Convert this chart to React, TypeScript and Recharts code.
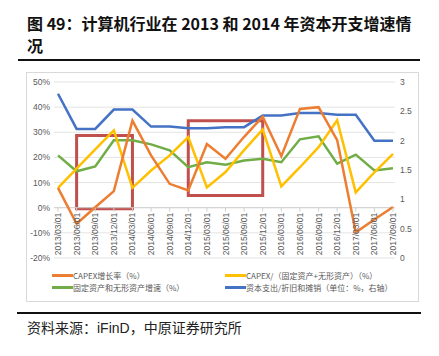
import React from 'react';
import {
  LineChart,
  Line,
  XAxis,
  YAxis,
  CartesianGrid,
  ReferenceArea,
  ReferenceLine
} from 'recharts';

// quarterly data, 2013Q1 - 2017Q3
const categories = [
  '2013/03/01', '2013/06/01', '2013/09/01', '2013/12/01',
  '2014/03/01', '2014/06/01', '2014/09/01', '2014/12/01',
  '2015/03/01', '2015/06/01', '2015/09/01', '2015/12/01',
  '2016/03/01', '2016/06/01', '2016/09/01', '2016/12/01',
  '2017/03/01', '2017/06/01', '2017/09/01'
];

// left axis, %
const capexGrowth = [7.9, -6.4, 0.2, 6.6, 34.6, 20.8, 9.5, 6.9, 25.3, 19.5, 28.2, 36.2, 20.5, 39.3, 40.0, 26.9, -9.8, -4.7, 0.3];
const capexRatio = [7.9, 15.5, 23.2, 30.8, 7.9, 14.8, 20.8, 28.1, 8.1, 14.2, 22.9, 31.1, 8.5, 16.1, 24.1, 34.8, 6.1, 14.1, 21.4];
const assetGrowth = [20.8, 14.5, 16.4, 26.8, 26.8, 25.2, 22.8, 16.1, 18.1, 17.1, 18.8, 19.5, 18.1, 27.2, 28.4, 17.5, 21.1, 14.8, 15.7];
// right axis
const capexToDep = [2.80, 2.20, 2.20, 2.53, 2.53, 2.24, 2.24, 2.21, 2.21, 2.23, 2.23, 2.43, 2.43, 2.47, 2.47, 2.44, 2.44, 2.00, 2.00];

const leftTicks = [-20, -10, 0, 10, 20, 30, 40, 50];
const rightTicks = [0, 0.5, 1, 1.5, 2, 2.5, 3];

const seriesNames = [
  'CAPEX增长率（%）',
  'CAPEX/（固定资产+无形资产）（%）',
  '固定资产和无形资产增速（%）',
  '资本支出/折旧和摊销（单位：%，右轴）'
];

const COLORS = ['#ED7D31', '#FFC000', '#70AD47', '#4472C4'];
const BOX = '#C0504D';

const data = categories.map((date, i) => ({
  date,
  growth: capexGrowth[i],
  ratio: capexRatio[i],
  asset: assetGrowth[i],
  dep: capexToDep[i]
}));

const CHART_W = 393;
const CHART_H = 230;
const X_AXIS_H = 30;
const MARGIN = { top: 10, right: 0, left: 0, bottom: 44 - X_AXIS_H };
const PLOT_H = CHART_H - MARGIN.top - MARGIN.bottom - X_AXIS_H;
// y pixel of the 0% line, where Excel puts the category labels
const ZERO_Y = MARGIN.top + (PLOT_H * 50) / 70;

const CJK = '"Noto Sans CJK SC", "Liberation Sans", sans-serif';
const LATIN = '"Liberation Sans", Arial, sans-serif';

const DateTick = (props: any) => {
  const { x, payload } = props;
  return (
    <g>
      <line x1={x} x2={x} y1={ZERO_Y} y2={ZERO_Y + 4} stroke="#d0d0d0" />
      <text
        transform={`translate(${x},${ZERO_Y + 5}) rotate(-90)`}
        textAnchor="end"
        dominantBaseline="central"
        fontSize={8.5}
        fontFamily={LATIN}
        fill="#595959"
      >
        {payload.value}
      </text>
    </g>
  );
};

export default function App() {
  return (
    <div style={{ position: 'absolute', left: 0, top: 0, width: 439, height: 356, background: '#fff' }}>
      <div
        style={{
          position: 'absolute',
          left: 27,
          top: 12,
          fontFamily: CJK,
          fontWeight: 700,
          fontSize: 16,
          lineHeight: '22px',
          color: '#111'
        }}
      >
        图 49：计算机行业在 2013 和 2014 年资本开支增速情
        <br />
        况
      </div>
      <div style={{ position: 'absolute', left: 18, top: 59, width: 402, height: 2, background: '#111' }} />

      <div
        style={{
          position: 'absolute',
          left: 26,
          top: 72,
          width: CHART_W,
          height: CHART_H,
          boxSizing: 'border-box',
          border: '1px solid #d9d9d9'
        }}
      />
      <div style={{ position: 'absolute', left: 26, top: 72 }}>
        <LineChart width={CHART_W} height={CHART_H} data={data} margin={MARGIN}>
          <CartesianGrid yAxisId="left" vertical={false} stroke="#e4e4e4" />
          <XAxis
            dataKey="date"
            interval={0}
            height={X_AXIS_H}
            axisLine={false}
            tickLine={false}
            padding={{ left: 4, right: 2 }}
            tick={DateTick}
          />
          <YAxis
            yAxisId="left"
            width={28}
            domain={[-20, 50]}
            ticks={leftTicks}
            axisLine={false}
            tickLine={false}
            tickSize={0}
            tickMargin={4}
            tickFormatter={(v: number) => `${v}%`}
            tick={{ fontSize: 8.5, fill: '#595959', fontFamily: LATIN }}
          />
          <YAxis
            yAxisId="right"
            orientation="right"
            width={24}
            domain={[0, 3]}
            ticks={rightTicks}
            axisLine={false}
            tickLine={false}
            tickSize={0}
            tickMargin={5}
            tick={{ fontSize: 8.5, fill: '#595959', fontFamily: LATIN }}
          />
          <ReferenceLine yAxisId="left" y={0} stroke="#d0d0d0" />
          <ReferenceArea
            yAxisId="left"
            x1="2013/06/01"
            x2="2014/03/01"
            y1={-0.4}
            y2={28.7}
            fill="none"
            stroke={BOX}
            strokeWidth={3}
            ifOverflow="visible"
          />
          <ReferenceArea
            yAxisId="left"
            x1="2014/12/01"
            x2="2015/12/01"
            y1={4.9}
            y2={34.6}
            fill="none"
            stroke={BOX}
            strokeWidth={3}
            ifOverflow="visible"
          />
          <Line yAxisId="right" dataKey="dep" stroke={COLORS[3]} strokeWidth={2.5} dot={false} isAnimationActive={false} />
          <Line yAxisId="left" dataKey="asset" stroke={COLORS[2]} strokeWidth={2.5} dot={false} isAnimationActive={false} />
          <Line yAxisId="left" dataKey="ratio" stroke={COLORS[1]} strokeWidth={2.5} dot={false} isAnimationActive={false} />
          <Line yAxisId="left" dataKey="growth" stroke={COLORS[0]} strokeWidth={2.5} dot={false} isAnimationActive={false} />
        </LineChart>
      </div>

      {/* legend, two columns like the Excel original */}
      {seriesNames.map((name, i) => (
        <div
          key={name}
          style={{
            position: 'absolute',
            left: i % 2 === 0 ? 52 : 225,
            top: i < 2 ? 270 : 282,
            height: 11,
            display: 'flex',
            alignItems: 'center',
            fontFamily: CJK,
            fontSize: 8,
            color: '#595959',
            whiteSpace: 'nowrap'
          }}
        >
          <span style={{ display: 'inline-block', width: 21, height: 2.5, background: COLORS[i] }} />
          {name}
        </div>
      ))}

      <div style={{ position: 'absolute', left: 17, top: 312, width: 404, height: 2, background: '#111' }} />
      <div
        style={{
          position: 'absolute',
          left: 27,
          top: 318,
          fontFamily: CJK,
          fontSize: 14,
          lineHeight: '18px',
          color: '#222'
        }}
      >
        资料来源：<span style={{ fontFamily: LATIN }}>iFinD</span>，中原证券研究所
      </div>
    </div>
  );
}
